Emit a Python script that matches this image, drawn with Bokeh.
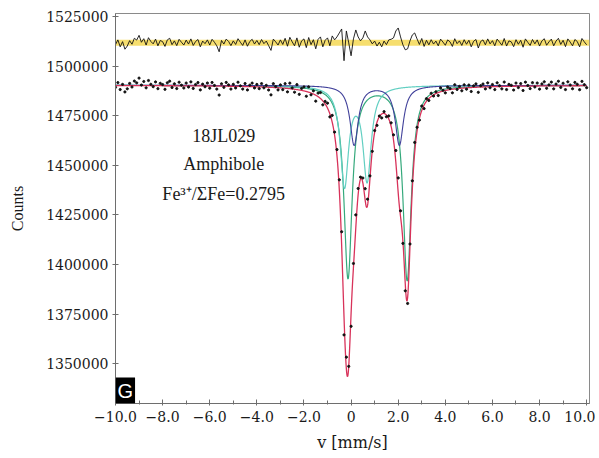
import numpy as np
from bokeh.plotting import figure
from bokeh.models import Label, Span, FixedTicker, Range1d, NumeralTickFormatter
from bokeh.embed import file_html
from bokeh.resources import INLINE

# ---------------- data ----------------
baseline = 1490300          # off-resonance counts
residual_offset = 1511700   # where the residual trace is drawn

# Lorentzian doublet components: centres (mm/s) and depths (counts)
green_centers = [-0.13, 2.38]
green_depths = [97000, 98000]
cyan_centers = [-0.28, 0.68]
cyan_depths = [50000, 47000]
navy_centers = [0.13, 2.05]
navy_depths = [30000, 30000]
hwhm = 0.21

# measured residual (data - fit), one value per 0.1 mm/s from -10.0 to 10.0
residual = [
    -900, 1500, -2000, 600, -3200, -1600, 1100, -700, 2300, 1400,
    3800, 300, 2100, -1100, 2600, 700, -500, 1900, -1500, 1200,
    600, -1800, 1500, 2300, -900, 1000, -1400, 1800, 300, -1100,
    1400, -600, 2000, -1300, 700, 1700, -2000, 900, -400, 1500,
    -1100, 1800, 300, -1500, -4500, 1200, -600, 1900, 700, -1400,
    1000, -800, 2100, 300, -1300, 1500, -1700, 700, 1800, -600,
    1200, -900, 1700, -400, 900, -1400, -3800, 1900, 500, -1100,
    1500, -800, 2300, -1700, 2800, 500, -1500, 2500, -2200, 1000,
    2000, -2400, 2700, -900, 1600, -3000, 1800, 3000, -2000, 1300,
    2500, -1500, 3500, 1500, 3000, 5000, 7000, -9000, 6000, 0,
    -6500, 2000, 6500, 3000, 1000, 2500, 6000, 3000, 1500, -500,
    900, -1600, 300, -2000, 900, -900, 1500, 1800, 2500, 6000,
    7500, 3000, -1000, -3500, -3000, 1000, 4000, 5000, 2000, -800,
    2200, -1800, 1300, -1000, 1600, -600, 900, -1500, 1900, 400,
    -1200, 1500, 500, -1800, 2100, -400, 1000, -1300, 1600, -700,
    1300, -2000, 800, 1700, -2600, 700, 1500, -1000, 2000, -500,
    1100, -1500, 1900, 400, -1200, 2200, -1600, 1000, 500, -1900,
    1600, -700, 1300, -2200, 2000, 300, -1300, 1700, -500, 1500,
    -1600, 1000, 2100, -1200, 500, 1900, -1500, 900, 2300, -800,
    1300, -1900, 2000, 400, -1500, 1700, 700, -2000, 2200, 500,
    -1000,
]
v_data = np.arange(-100, 101) / 10.0

xticks = [-10, -8, -6, -4, -2, 0, 2, 4, 6, 8, 10]
xtick_labels = ["\u221210.0", "\u22128.0", "\u22126.0", "\u22124.0", "\u22122.0", "0",
                "2.0", "4.0", "6.0", "8.0", "10.0"]
xminor = [-9, -7, -5, -3, -1, 1, 3, 5, 7, 9]
yticks = [1350000, 1375000, 1400000, 1425000, 1450000, 1475000, 1500000, 1525000]

sample_name = "18JL029"
mineral = "Amphibole"
ratio_text = "Fe\u00b3\u207a/\u03a3Fe=0.2795"

# ---------------- model ----------------
def doublet(v, centers, depths):
    out = np.zeros_like(v, dtype=float)
    for c, d in zip(centers, depths):
        out += d / (1.0 + ((v - c) / hwhm) ** 2)
    return out

v_fine = np.linspace(-10, 10, 1601)
g_f = doublet(v_fine, green_centers, green_depths)
c_f = doublet(v_fine, cyan_centers, cyan_depths)
n_f = doublet(v_fine, navy_centers, navy_depths)
total_f = baseline - (g_f + c_f + n_f)

res = np.array(residual, dtype=float)
fit_at_data = baseline - (doublet(v_data, green_centers, green_depths)
                          + doublet(v_data, cyan_centers, cyan_depths)
                          + doublet(v_data, navy_centers, navy_depths))
counts = fit_at_data + res

# ---------------- figure ----------------
p = figure(width=595, height=454, x_range=Range1d(-10, 10.12),
           y_range=Range1d(1329900, 1526500),
           output_backend="svg", toolbar_location=None,
           min_border_left=115, min_border_right=6, min_border_top=13,
           min_border_bottom=50)
p.grid.visible = False
p.outline_line_color = "#8a8a8a"
p.outline_line_width = 1
p.background_fill_color = "white"

tick_font = "DejaVu Serif"
for ax in (p.xaxis[0], p.yaxis[0]):
    ax.axis_line_color = "#6e6e6e"
    ax.major_tick_line_color = "#6e6e6e"
    ax.minor_tick_line_color = "#6e6e6e"
    ax.major_label_text_font = tick_font
    ax.major_label_text_font_size = "14px"
    ax.major_label_text_color = "#1a1a1a"

p.xaxis.ticker = FixedTicker(ticks=xticks, minor_ticks=xminor)
p.xaxis.major_label_overrides = {t: l for t, l in zip(xticks, xtick_labels)}
p.xaxis.major_tick_in = 4
p.xaxis.major_tick_out = 2
p.xaxis.minor_tick_in = 3
p.xaxis.minor_tick_out = 1
p.xaxis.major_label_standoff = 5
p.xaxis.axis_label = "v [mm/s]"
p.xaxis.axis_label_text_font = "DejaVu Serif"
p.xaxis.axis_label_text_font_style = "normal"
p.xaxis.axis_label_text_font_size = "16px"
p.xaxis.axis_label_text_color = "#1a1a1a"
p.xaxis.axis_label_standoff = 8

p.yaxis.ticker = FixedTicker(ticks=yticks)
p.yaxis.formatter = NumeralTickFormatter(format="0")
p.yaxis.major_tick_in = 3
p.yaxis.major_tick_out = 3
p.yaxis.minor_tick_line_color = None
p.yaxis.major_label_standoff = 4
p.yaxis.axis_label = "Counts"
p.yaxis.axis_label_text_font = "Liberation Serif"
p.yaxis.axis_label_text_font_style = "normal"
p.yaxis.axis_label_text_font_size = "16px"
p.yaxis.axis_label_text_color = "#1a1a1a"
p.yaxis.axis_label_standoff = 17

# residual band + trace
p.add_layout(Span(location=residual_offset, dimension="width", level="underlay",
                  line_color="#f4d64a", line_width=6, line_alpha=0.8))
p.line(v_data, res + residual_offset, line_color="#111111", line_width=0.9)

# components
p.line(v_fine, baseline - g_f, line_color="#35a97c", line_width=1.2)
p.line(v_fine, baseline - c_f, line_color="#62cfc2", line_width=1.2)
p.line(v_fine, baseline - n_f, line_color="#40409a", line_width=1.1)
p.line(v_fine, total_f, line_color="#d8325a", line_width=1.3)

# data points
p.scatter(v_data, counts, size=2.2, color="#111111")

# annotation text
txt_font = "Liberation Serif"
for y, t in [(1464960, sample_name), (1450400, mineral), (1435300, ratio_text)]:
    p.add_layout(Label(x=-5.41, y=y, text=t, text_align="center", text_baseline="middle",
                       text_font=txt_font, text_font_size="18px", text_color="#1a1a1a"))

# panel letter
p.add_layout(Label(x=-10, y=1329900, text="G", text_align="left", text_baseline="bottom",
                   text_font="Liberation Sans", text_font_size="20px", text_color="white",
                   background_fill_color="black", padding=2))

open("out.html", "w").write(file_html(p, INLINE))
